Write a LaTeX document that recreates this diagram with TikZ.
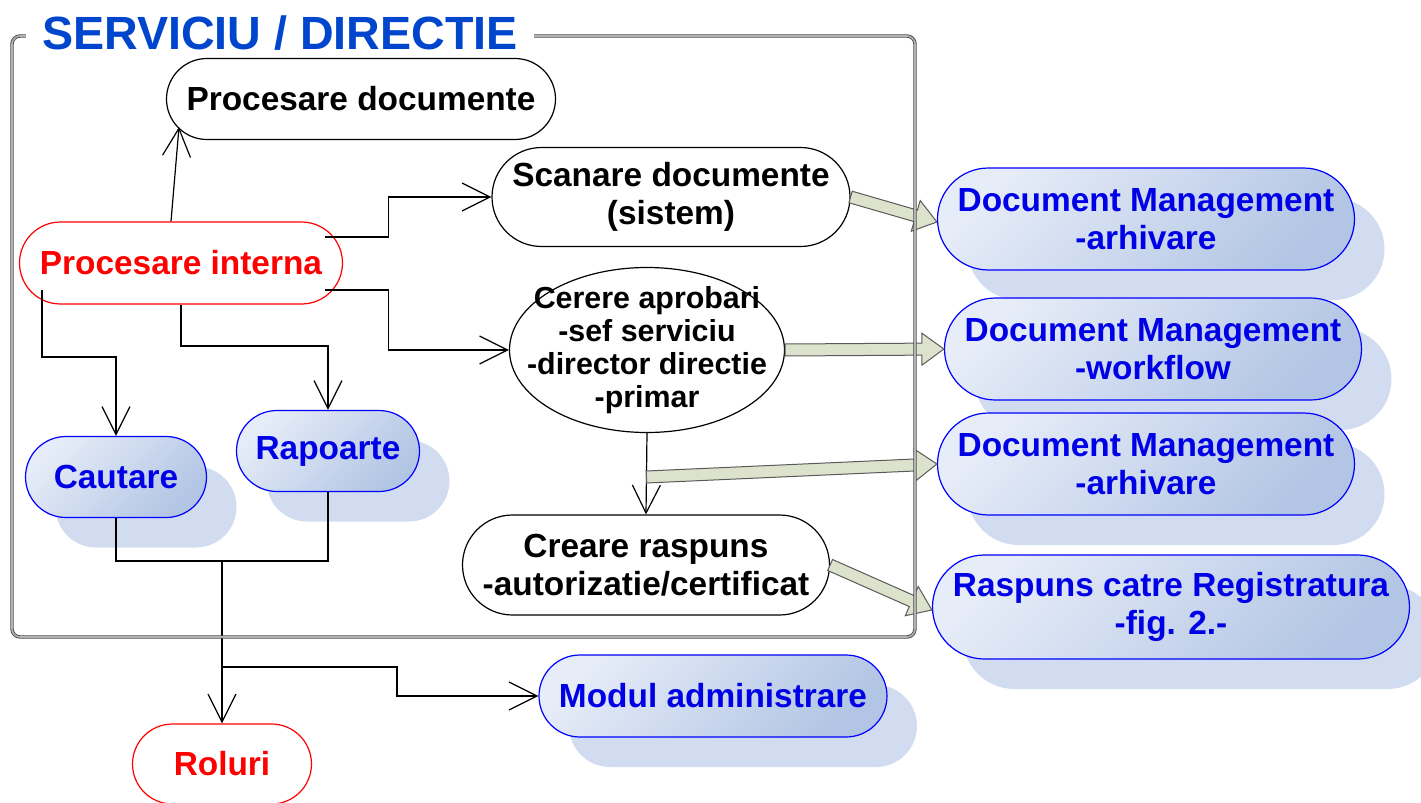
\documentclass[tikz,border=0pt]{standalone}
\usepackage{fontspec}
\setmainfont{Liberation Sans}
\usetikzlibrary{arrows.meta, calc, positioning, shadows, shapes.geometric}

\definecolor{titleblue}{RGB}{0,70,205}
\definecolor{textblue}{RGB}{0,0,230}
\definecolor{boxlight}{RGB}{230,236,248}
\definecolor{boxdark}{RGB}{178,197,228}
\definecolor{shadowblue}{RGB}{210,220,240}
\definecolor{fatfill}{RGB}{221,226,204}
\definecolor{fatline}{RGB}{90,90,90}

\tikzset{
>={Straight Barb[length=14pt, width=14pt]}, % open V arrow heads
every node/.style={font=\fontsize{16.7}{19}\selectfont\bfseries, align=center, inner sep=0pt},
pill/.style 2 args={rectangle, minimum width=#1, minimum height=#2, rounded corners=0.5*#2}, % stadium shape
act/.style={draw=black, line width=0.6pt, fill=white},
redact/.style={act, draw=red, text=red},
module/.style={draw=blue, line width=0.6pt, text=textblue,
  top color=boxlight, bottom color=boxdark, shading angle=45,
  drop shadow={shadow xshift=15pt, shadow yshift=-15pt, fill=shadowblue, opacity=1}},
link/.style={->, line width=0.6pt},
fatarrow/.style={draw=fatline, fill=fatfill, line width=0.5pt},
}

% hollow block arrow from #1 to #2
\newcommand{\fatlink}[2]{%
  \path[fatarrow] let \p1=(#1), \p2=(#2),
    \n1={atan2(\y2-\y1,\x2-\x1)}, \n2={veclen(\x2-\x1,\y2-\y1)-11pt} in
    ($(\p1)+({\n1+90}:3pt)$) -- ($(\p1)+({\n1}:{\n2})+({\n1+90}:3pt)$)
    -- ($(\p1)+({\n1}:{\n2})+({\n1+90}:8pt)$) -- (\p2)
    -- ($(\p1)+({\n1}:{\n2})+({\n1-90}:8pt)$) -- ($(\p1)+({\n1}:{\n2})+({\n1-90}:3pt)$)
    -- ($(\p1)+({\n1-90}:3pt)$) -- cycle;}

\begin{document}
\begin{tikzpicture}[x=0.5pt, y=-0.5pt]
  \useasboundingbox (0,0) rectangle (1421,803);

  % Inside the service ---------------------------------
  \node[act, pill={194.5pt}{40.5pt}] (pd) at (361,99) {Procesare documente};
  \node[redact, pill={161.5pt}{41pt}] (pi) at (181,263) {Procesare interna};
  \node[act, pill={179pt}{49.5pt}] (scan) at (671,197) {Scanare documente\\(sistem)};
  \node[act, ellipse, inner xsep=-25pt, inner ysep=-15pt, minimum width=137.5pt, minimum height=82.5pt,
    font=\fontsize{15.2}{16.5}\selectfont\bfseries] (cer) at (647,350)
    {Cerere aprobari\\-sef serviciu\\-director directie\\-primar};
  \node[act, pill={183.5pt}{50pt}] (creare) at (646,565) {Creare raspuns\\-autorizatie/certificat};
  \node[module, pill={90.5pt}{40.5pt}] (caut) at (116,477) {Cautare};
  \node[module, pill={91.5pt}{40.5pt}] (rap) at (328,451) {Rapoarte};

  % Outside modules ------------------------------------
  \node[module, pill={208.5pt}{51pt}] (dma) at (1146,219) {Document Management\\-arhivare};
  \node[module, pill={208.5pt}{51pt}] (dmw) at (1153,349) {Document Management\\-workflow};
  \node[module, pill={208.5pt}{51pt}] (dmb) at (1146,464) {Document Management\\-arhivare};
  \node[module, pill={238.5pt}{52pt}] (rasp) at (1171,607) {Raspuns catre Registratura\\-fig. 2.-};
  \node[module, pill={174pt}{41pt}] (mod) at (713,696) {Modul administrare};
  \node[redact, pill={89.5pt}{40pt}] (rol) at (222,764) {Roluri};

  % Helper points
  \coordinate (cerdn) at ($(cer.south)!0.54!(creare.north)$);
  \coordinate (join) at (222,561);
  \coordinate (split) at (222,667);

  % Thin connectors
  \draw[link] ($(pi.north)+(-10,0)$) -- ($(pd.south)+(-182,-13)$);
  \draw[link] ($(pi.east)+(-18,-26)$) -- ++(63,0) |- (scan.west);
  \draw[link] ($(pi.east)+(-18,27)$) -- ++(63,0) |- (cer.west);
  \draw[link] ($(pi.center)+(-139,27)$) |- ($(caut.north)+(0,-79)$) -- (caut.north);
  \draw[link] (pi.south) |- ($(rap.north)+(0,-64)$) -- (rap.north);
  \draw[link] (cer.south) -- (creare.north);
  \draw[line width=0.6pt] (caut.south) |- (join) -| (rap.south);
  \draw[link] (join) -- (rol.north);
  \draw[link] (split) -- ++(175,0) |- (mod.west);

  % Block arrows
  \fatlink{scan.east}{$(dma.west)+(0,3)$}
  \fatlink{cer.east}{dmw.west}
  \fatlink{cerdn}{dmb.west}
  \fatlink{creare.east}{$(rasp.west)+(0,3)$}

  % Frame and title
  \draw[draw=black!70, double=black!30, double distance=0.8pt, line width=0.45pt, rounded corners=4pt]
    (12,36) rectangle (915,637);
  \node[fill=white, inner xsep=8pt, inner ysep=2pt, anchor=base, text=titleblue,
    font=\fontsize{23.3}{28}\selectfont\bfseries] (title) at (280,49) {SERVICIU / DIRECTIE};
\end{tikzpicture}
\end{document}
